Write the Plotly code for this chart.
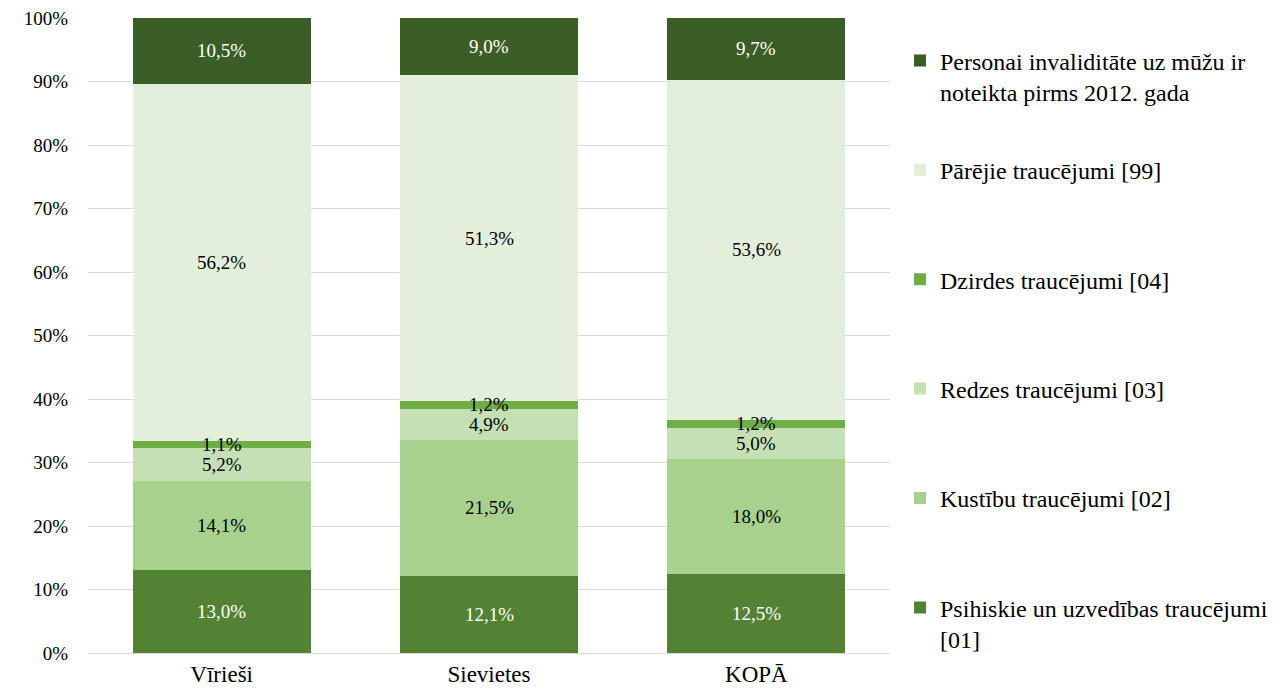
import plotly.graph_objects as go

categories = ["Vīrieši", "Sievietes", "KOPĀ"]
series_names = [
    "Psihiskie un uzvedības traucējumi<br>[01]",
    "Kustību traucējumi [02]",
    "Redzes traucējumi [03]",
    "Dzirdes traucējumi [04]",
    "Pārējie traucējumi [99]",
    "Personai invaliditāte uz mūžu ir<br>noteikta pirms 2012. gada",
]
psihiskie = [13.0, 12.1, 12.5]
kustibu = [14.1, 21.5, 18.0]
redzes = [5.2, 4.9, 5.0]
dzirdes = [1.1, 1.2, 1.2]
parejie = [56.2, 51.3, 53.6]
personai = [10.5, 9.0, 9.7]
series_values = [psihiskie, kustibu, redzes, dzirdes, parejie, personai]
colors = ["#548235", "#A9D18E", "#C5E0B4", "#70AD47", "#E2EFDA", "#3B5E26"]
label_colors = ["white", "black", "black", "black", "black", "white"]
y_ticks = [0, 10, 20, 30, 40, 50, 60, 70, 80, 90, 100]

FONT = "'Liberation Serif', 'Times New Roman', serif"

fig = go.Figure()
n = len(series_names)
for i, (name, vals) in enumerate(zip(series_names, series_values)):
    legend_name = name if "<br>" in name else name + "<br>\u00a0"
    fig.add_trace(go.Bar(
        x=categories, y=vals, name=legend_name,
        marker=dict(color=colors[i], line=dict(width=0)),
        legendgroup=str(i), legendrank=n - i,
    ))

annotations = []
for ci, cat in enumerate(categories):
    base = 0.0
    for si, vals in enumerate(series_values):
        v = vals[ci]
        annotations.append(dict(
            x=cat, y=base + v / 2, xref="x", yref="y",
            text=f"{v:.1f}%".replace(".", ","), showarrow=False,
            font=dict(family=FONT, size=19, color=label_colors[si]),
        ))
        base += v

fig.update_layout(
    barmode="stack",
    bargap=0.333,
    width=1278, height=687,
    margin=dict(l=80, r=396, t=10, b=42, autoexpand=False),
    plot_bgcolor="white", paper_bgcolor="white",
    font=dict(family=FONT, size=19, color="black"),
    annotations=annotations,
    showlegend=True,
    legend=dict(
        x=1.0125, xanchor="left", y=0.968, yanchor="top",
        traceorder="grouped", tracegroupgap=44,
        valign="top",
        font=dict(family=FONT, size=24, color="black"),
        itemwidth=30,
    ),
    xaxis=dict(
        showline=True, linecolor="#D9D9D9", linewidth=1,
        tickfont=dict(family=FONT, size=23, color="black"),
        ticks="", showgrid=False,
    ),
    yaxis=dict(
        range=[0, 100], tickvals=y_ticks,
        ticktext=[f"{t}%" for t in y_ticks],
        showgrid=True, gridcolor="#D9D9D9", gridwidth=1,
        zeroline=False, ticks="", ticklabelstandoff=19,
        ticklabeloverflow="allow",
        tickfont=dict(family=FONT, size=19, color="black"),
    ),
)

fig.write_html("out.html")
